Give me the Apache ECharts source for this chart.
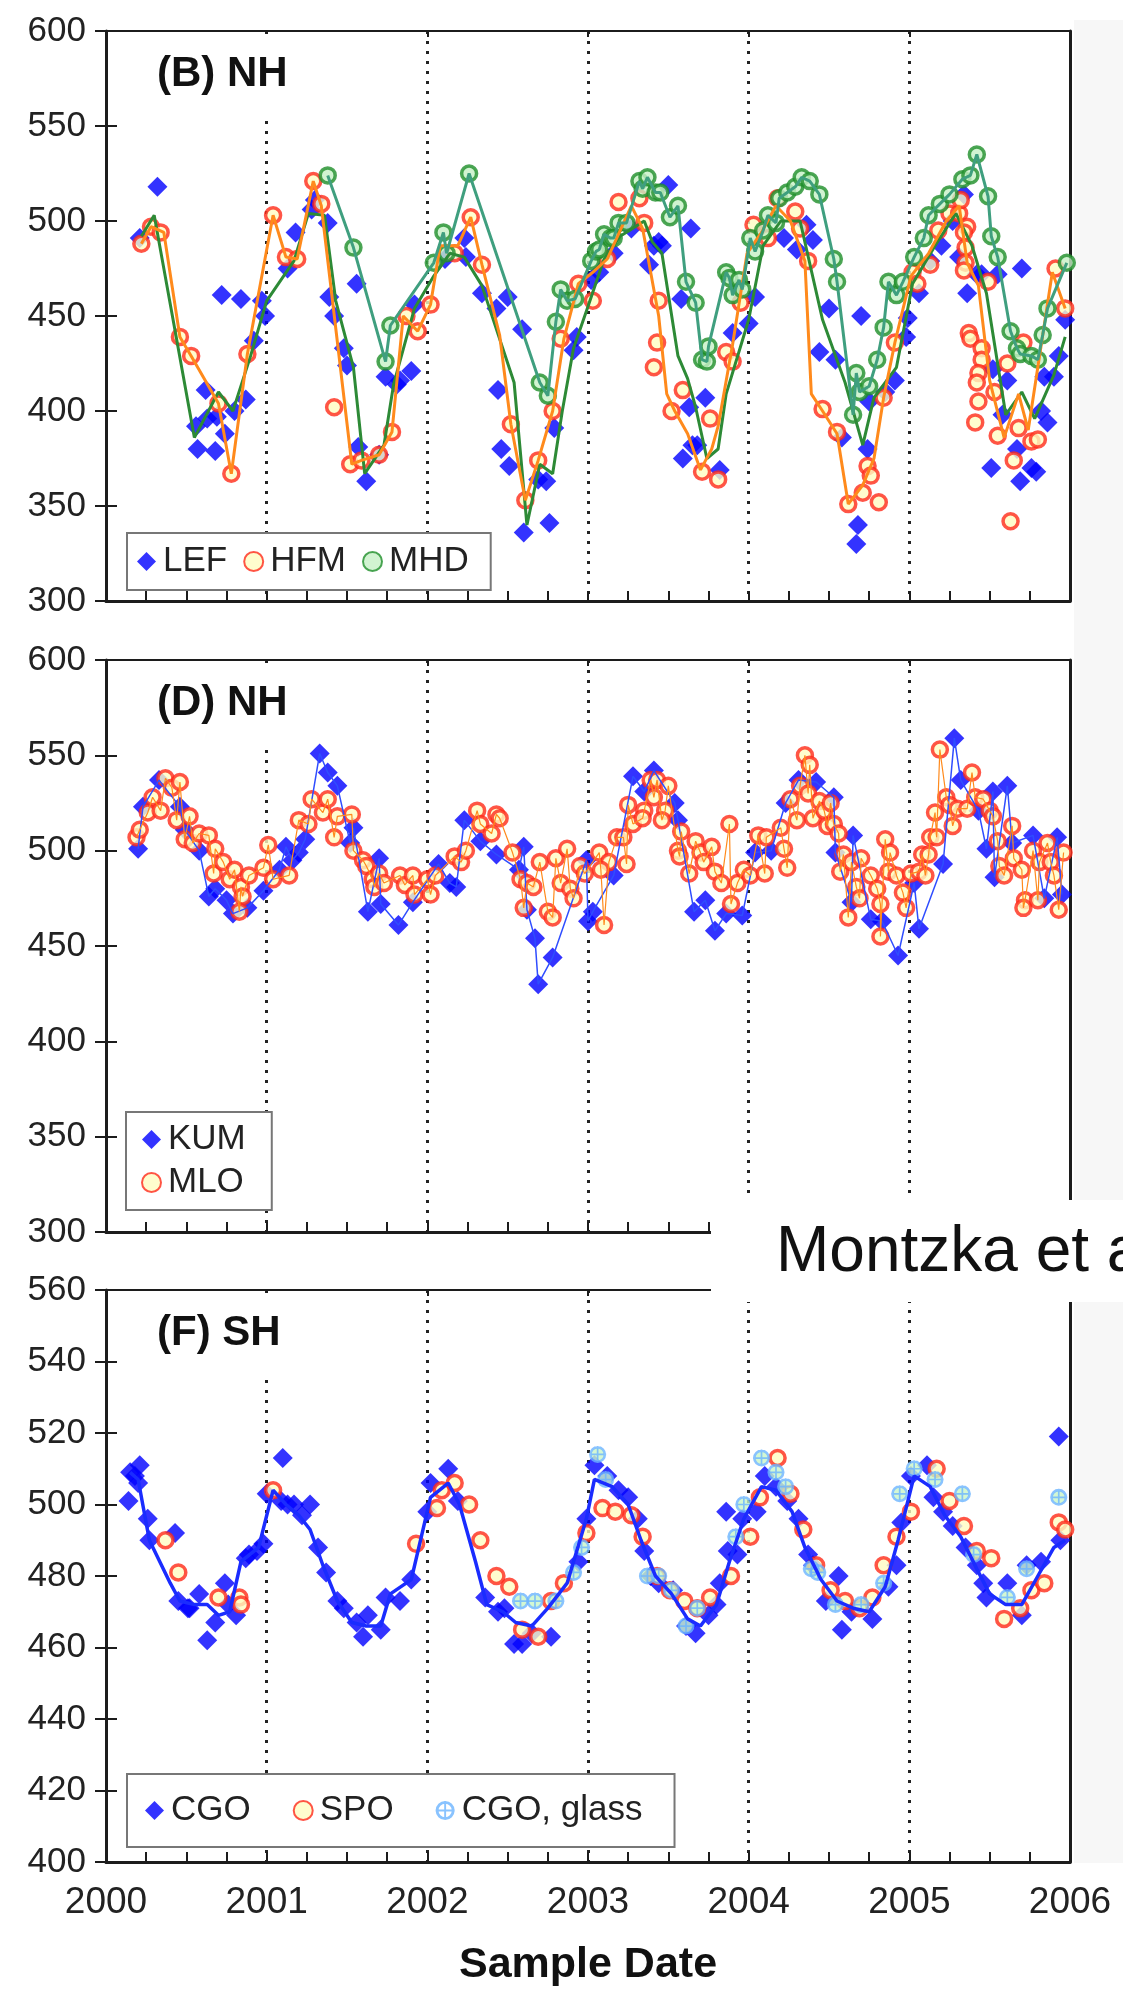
<!DOCTYPE html>
<html>
<head>
<meta charset="utf-8">
<script src="https://cdn.jsdelivr.net/npm/echarts@6/dist/echarts.min.js"></script>
<style>
  html, body { margin: 0; padding: 0; background: #ffffff; }
  #chart { width: 1123px; height: 1995px; }
</style>
</head>
<body>
<div id="chart"></div>
<script>
// ---- Panel B (NH): LEF, HFM, MHD ----
const lefPoints = [[2000.21,491],[2000.32,518],[2000.56,392],[2000.57,380],[2000.62,411],[2000.63,396],[2000.68,379],[2000.69,397],[2000.72,461],[2000.74,388],[2000.80,400],[2000.84,459],[2000.87,406],[2000.92,437],[2000.97,458],[2000.99,450],[2001.13,475],[2001.18,494],[2001.28,506],[2001.30,511],[2001.38,499],[2001.39,460],[2001.42,450],[2001.48,433],[2001.50,424],[2001.56,467],[2001.57,381],[2001.62,363],[2001.70,377],[2001.74,418],[2001.81,414],[2001.83,416],[2001.90,421],[2001.92,456],[2002.11,480],[2002.23,491],[2002.24,481],[2002.34,462],[2002.43,454],[2002.50,460],[2002.44,411],[2002.59,443],[2002.46,380],[2002.51,371],[2002.60,336],[2002.69,364],[2002.74,363],[2002.76,341],[2002.79,391],[2002.91,432],[2002.93,439],[2003.02,469],[2003.07,473],[2003.16,483],[2003.27,496],[2003.38,477],[2003.41,487],[2003.44,489],[2003.46,487],[2003.50,519],[2003.58,459],[2003.64,496],[2003.59,375],[2003.65,382],[2003.63,402],[2003.68,382],[2003.73,407],[2003.82,369],[2003.90,441],[2004.00,446],[2004.04,460],[2004.22,491],[2004.30,485],[2004.36,498],[2004.40,490],[2004.44,431],[2004.50,454],[2004.54,427],[2004.58,386],[2004.68,340],[2004.67,330],[2004.70,450],[2004.74,380],[2004.75,405],[2004.85,410],[2004.91,416],[2004.98,439],[2004.99,449],[2005.06,462],[2005.13,479],[2005.20,487],[2005.27,500],[2005.34,514],[2005.31,481],[2005.36,462],[2005.42,472],[2005.45,472],[2005.55,472],[2005.52,422],[2005.58,398],[2005.61,416],[2005.51,370],[2005.67,380],[2005.69,363],[2005.70,475],[2005.76,370],[2005.79,368],[2005.82,400],[2005.84,418],[2005.86,394],[2005.90,418],[2005.93,429],[2005.97,448]];

const lefMonthly = [[2000.22,492],[2000.30,503],[2000.55,386],[2000.70,410],[2000.79,400],[2000.90,429],[2001.00,458],[2001.17,479],[2001.26,504],[2001.36,503],[2001.43,458],[2001.54,423],[2001.61,367],[2001.73,382],[2001.79,414],[2001.92,454],[2002.04,471],[2002.14,483],[2002.23,481],[2002.34,466],[2002.54,415],[2002.62,340],[2002.70,372],[2002.78,367],[2002.84,400],[2002.91,433],[2003.00,455],[2003.10,480],[2003.20,492],[2003.35,500],[2003.40,489],[2003.46,483],[2003.56,429],[2003.62,417],[2003.67,402],[2003.74,375],[2003.81,380],[2003.86,409],[2004.00,448],[2004.09,487],[2004.20,500],[2004.32,500],[2004.46,448],[2004.60,415],[2004.71,382],[2004.78,407],[2004.92,423],[2005.02,467],[2005.16,487],[2005.29,504],[2005.39,487],[2005.48,462],[2005.60,398],[2005.70,410],[2005.78,396],[2005.90,419],[2005.97,439]];

const hfmPoints = [[2000.22,488],[2000.28,497],[2000.34,494],[2000.46,439],[2000.53,429],[2000.70,404],[2000.78,367],[2000.88,430],[2001.04,503],[2001.12,481],[2001.19,480],[2001.29,521],[2001.34,509],[2001.42,402],[2001.52,372],[2001.59,374],[2001.70,377],[2001.78,389],[2001.87,450],[2001.94,442],[2002.02,456],[2002.17,483],[2002.27,502],[2002.34,477],[2002.52,393],[2002.61,353],[2002.69,374],[2002.78,400],[2002.83,438],[2002.94,467],[2003.03,458],[2003.12,480],[2003.19,510],[2003.32,512],[2003.35,499],[2003.44,458],[2003.43,436],[2003.41,423],[2003.52,400],[2003.59,411],[2003.71,368],[2003.81,364],[2003.76,396],[2003.86,431],[2003.90,426],[2003.95,457],[2004.03,498],[2004.12,491],[2004.18,512],[2004.29,505],[2004.32,496],[2004.37,479],[2004.46,401],[2004.55,389],[2004.62,351],[2004.71,357],[2004.74,371],[2004.76,366],[2004.81,352],[2004.84,407],[2004.91,436],[2005.02,473],[2005.05,467],[2005.13,477],[2005.18,495],[2005.25,504],[2005.31,504],[2005.32,511],[2005.36,497],[2005.34,494],[2005.35,486],[2005.35,478],[2005.34,474],[2005.49,468],[2005.37,441],[2005.38,438],[2005.45,433],[2005.45,427],[2005.43,420],[2005.42,415],[2005.43,405],[2005.41,394],[2005.53,410],[2005.55,387],[2005.61,425],[2005.63,342],[2005.65,374],[2005.68,391],[2005.71,436],[2005.76,384],[2005.80,385],[2005.91,475],[2005.97,454]];

const hfmMonthly = [[2000.22,488],[2000.28,497],[2000.36,494],[2000.46,439],[2000.53,429],[2000.70,404],[2000.78,367],[2000.88,430],[2001.04,503],[2001.12,481],[2001.19,480],[2001.29,521],[2001.34,508],[2001.53,372],[2001.59,374],[2001.70,377],[2001.78,389],[2001.85,450],[2001.94,442],[2002.02,456],[2002.08,487],[2002.19,487],[2002.27,502],[2002.34,477],[2002.45,440],[2002.52,393],[2002.61,353],[2002.69,374],[2002.78,400],[2002.85,438],[2002.94,467],[2003.03,473],[2003.12,480],[2003.27,508],[2003.34,496],[2003.44,450],[2003.49,409],[2003.54,400],[2003.62,388],[2003.70,369],[2003.77,380],[2003.81,392],[2003.90,435],[2003.99,483],[2004.08,494],[2004.17,508],[2004.26,500],[2004.35,479],[2004.39,409],[2004.46,400],[2004.55,388],[2004.62,351],[2004.71,361],[2004.78,375],[2004.84,407],[2004.91,436],[2005.01,471],[2005.12,483],[2005.23,500],[2005.31,508],[2005.36,478],[2005.43,466],[2005.50,416],[2005.59,386],[2005.68,409],[2005.74,390],[2005.89,473],[2005.97,454]];

const mhdPoints = [[2001.38,524],[2001.54,486],[2001.74,426],[2001.77,445],[2002.04,478],[2002.10,494],[2002.12,483],[2002.26,525],[2002.70,415],[2002.75,408],[2002.80,447],[2002.83,464],[2002.87,458],[2002.92,459],[2003.02,479],[2003.05,484],[2003.07,485],[2003.10,493],[2003.14,491],[2003.16,491],[2003.19,499],[2003.24,499],[2003.32,521],[2003.34,517],[2003.37,523],[2003.42,515],[2003.45,515],[2003.51,502],[2003.56,508],[2003.61,468],[2003.67,457],[2003.71,427],[2003.74,426],[2003.75,434],[2003.86,473],[2003.88,470],[2003.90,461],[2003.94,469],[2003.96,464],[2004.01,491],[2004.04,484],[2004.09,495],[2004.12,503],[2004.17,499],[2004.19,512],[2004.24,515],[2004.29,518],[2004.33,523],[2004.38,521],[2004.44,514],[2004.53,480],[2004.55,468],[2004.65,398],[2004.67,420],[2004.69,410],[2004.75,413],[2004.80,427],[2004.84,444],[2004.87,468],[2004.92,461],[2004.96,468],[2005.03,481],[2005.09,491],[2005.12,503],[2005.19,509],[2005.25,514],[2005.33,522],[2005.38,524],[2005.42,535],[2005.49,513],[2005.51,492],[2005.55,481],[2005.63,442],[2005.67,433],[2005.69,430],[2005.76,429],[2005.80,427],[2005.83,440],[2005.86,454],[2005.98,478]];

// ---- Panel D (NH): KUM, MLO ----
const kumPoints = [[2000.20,501],[2000.23,523],[2000.33,537],[2000.46,523],[2000.49,511],[2000.58,500],[2000.64,476],[2000.68,480],[2000.75,474],[2000.79,467],[2000.88,470],[2000.98,479],[2001.08,490],[2001.12,502],[2001.16,495],[2001.20,499],[2001.24,506],[2001.33,551],[2001.38,541],[2001.44,534],[2001.52,504],[2001.54,512],[2001.63,468],[2001.70,496],[2001.71,472],[2001.82,461],[2001.91,473],[2002.07,493],[2002.14,483],[2002.18,481],[2002.23,516],[2002.33,505],[2002.43,498],[2002.57,490],[2002.60,502],[2002.62,469],[2002.67,454],[2002.69,430],[2002.78,444],[2002.99,495],[2003.00,463],[2003.03,468],[2003.16,487],[2003.28,539],[2003.35,531],[2003.41,542],[2003.54,525],[2003.56,516],[2003.66,468],[2003.73,474],[2003.79,458],[2003.86,467],[2003.96,466],[2004.04,499],[2004.14,500],[2004.23,525],[2004.31,537],[2004.42,536],[2004.53,528],[2004.54,499],[2004.64,473],[2004.65,508],[2004.76,464],[2004.83,463],[2004.93,445],[2005.03,483],[2005.06,459],[2005.21,493],[2005.28,559],[2005.32,537],[2005.43,521],[2005.48,501],[2005.52,531],[2005.53,486],[2005.61,534],[2005.64,504],[2005.77,508],[2005.84,475],[2005.92,507],[2005.95,477]];

const mloPoints = [[2000.19,507],[2000.21,511],[2000.26,520],[2000.29,528],[2000.34,521],[2000.37,538],[2000.41,533],[2000.46,536],[2000.44,516],[2000.52,518],[2000.49,506],[2000.54,504],[2000.58,509],[2000.64,508],[2000.68,501],[2000.67,488],[2000.73,494],[2000.77,485],[2000.80,490],[2000.84,481],[2000.85,476],[2000.83,468],[2000.89,487],[2000.98,491],[2001.04,485],[2001.01,503],[2001.14,487],[2001.20,516],[2001.26,514],[2001.28,527],[2001.35,520],[2001.38,527],[2001.42,507],[2001.44,518],[2001.53,519],[2001.54,500],[2001.60,495],[2001.62,492],[2001.66,485],[2001.70,488],[2001.67,481],[2001.73,483],[2001.83,487],[2001.86,482],[2001.91,487],[2001.92,477],[2002.02,477],[2002.00,485],[2002.05,487],[2002.17,497],[2002.21,494],[2002.24,500],[2002.31,521],[2002.33,514],[2002.40,509],[2002.43,519],[2002.45,517],[2002.53,499],[2002.58,485],[2002.60,470],[2002.62,483],[2002.66,481],[2002.70,494],[2002.75,468],[2002.78,465],[2002.80,496],[2002.83,483],[2002.87,501],[2002.89,480],[2002.91,475],[2002.95,492],[2002.98,488],[2003.10,461],[2003.07,499],[2003.13,494],[2003.08,490],[2003.24,493],[2003.18,507],[2003.22,507],[2003.25,524],[2003.28,514],[2003.35,521],[2003.34,517],[2003.39,537],[2003.43,537],[2003.41,528],[2003.50,534],[2003.48,521],[2003.46,516],[2003.58,510],[2003.56,500],[2003.57,497],[2003.67,505],[2003.63,488],[2003.70,499],[2003.72,494],[2003.77,502],[2003.79,489],[2003.83,483],[2003.89,472],[2003.88,514],[2003.93,483],[2003.97,490],[2004.01,487],[2004.06,508],[2004.10,488],[2004.11,507],[2004.20,512],[2004.22,501],[2004.24,491],[2004.26,527],[2004.30,516],[2004.32,534],[2004.35,550],[2004.38,545],[2004.37,530],[2004.40,517],[2004.44,526],[2004.47,521],[2004.51,525],[2004.49,513],[2004.53,514],[2004.56,509],[2004.59,498],[2004.57,489],[2004.64,494],[2004.70,496],[2004.67,481],[2004.69,475],[2004.76,487],[2004.80,480],[2004.82,472],[2004.85,506],[2004.88,499],[2004.87,489],[2004.92,487],[2004.96,478],[2004.98,470],[2004.62,465],[2004.82,455],[2005.01,488],[2005.06,489],[2005.10,487],[2005.08,498],[2005.12,498],[2005.13,507],[2005.17,507],[2005.16,520],[2005.19,553],[2005.23,528],[2005.25,524],[2005.27,513],[2005.30,522],[2005.36,522],[2005.39,541],[2005.41,528],[2005.46,527],[2005.50,521],[2005.52,518],[2005.55,505],[2005.64,513],[2005.56,492],[2005.59,487],[2005.65,496],[2005.70,490],[2005.77,500],[2005.81,494],[2005.86,504],[2005.88,494],[2005.90,487],[2005.96,499],[2005.72,474],[2005.71,470],[2005.80,474],[2005.93,469]];

// ---- Panel F (SH): CGO, SPO, CGO glass ----
const cgoPoints = [[2000.14,501],[2000.15,509],[2000.18,508],[2000.20,506],[2000.21,511],[2000.26,496],[2000.27,490],[2000.43,492],[2000.45,473],[2000.51,471],[2000.52,471],[2000.58,475],[2000.63,462],[2000.68,467],[2000.74,478],[2000.76,472],[2000.81,469],[2000.87,485],[2000.89,486],[2000.94,487],[2000.98,489],[2001.00,503],[2001.10,513],[2001.09,501],[2001.13,500],[2001.17,500],[2001.22,497],[2001.27,500],[2001.32,488],[2001.37,481],[2001.44,473],[2001.48,471],[2001.56,467],[2001.60,463],[2001.63,469],[2001.71,465],[2001.74,474],[2001.83,473],[2001.90,479],[2002.00,498],[2002.02,506],[2002.13,510],[2002.19,501],[2002.36,474],[2002.44,470],[2002.48,471],[2002.54,461],[2002.59,461],[2002.65,464],[2002.77,463],[2002.94,484],[2002.99,496],[2003.04,511],[2003.12,508],[2003.19,504],[2003.25,502],[2003.31,496],[2003.35,487],[2003.39,480],[2003.44,478],[2003.53,476],[2003.61,466],[2003.67,464],[2003.75,469],[2003.80,472],[2003.82,478],[2003.87,487],[2003.93,486],[2003.86,498],[2003.96,496],[2004.05,498],[2004.10,508],[2004.17,505],[2004.24,501],[2004.31,496],[2004.37,486],[2004.40,483],[2004.48,473],[2004.56,480],[2004.58,465],[2004.64,470],[2004.77,468],[2004.87,477],[2004.92,483],[2004.95,495],[2005.01,508],[2005.11,511],[2005.15,502],[2005.21,498],[2005.27,494],[2005.35,488],[2005.42,483],[2005.46,478],[2005.48,474],[2005.61,478],[2005.70,469],[2005.73,483],[2005.82,484],[2005.93,519],[2005.94,490]];

const cgoMonthly = [[2000.15,509],[2000.20,507],[2000.27,490],[2000.40,478],[2000.46,473],[2000.55,472],[2000.63,472],[2000.70,469],[2000.77,470],[2000.84,484],[2000.95,488],[2001.04,504],[2001.12,500],[2001.20,497],[2001.27,493],[2001.35,483],[2001.44,473],[2001.53,467],[2001.62,466],[2001.71,466],[2001.77,475],[2001.90,479],[2002.02,502],[2002.13,506],[2002.20,500],[2002.30,484],[2002.37,472],[2002.47,470],[2002.55,467],[2002.65,466],[2002.75,471],[2002.87,478],[2002.99,496],[2003.04,507],[2003.15,505],[2003.25,500],[2003.33,490],[2003.42,480],[2003.52,475],[2003.62,468],[2003.70,466],[2003.80,472],[2003.88,484],[2003.97,496],[2004.08,505],[2004.17,504],[2004.27,498],[2004.35,488],[2004.45,479],[2004.55,473],[2004.65,471],[2004.75,470],[2004.85,477],[2004.93,490],[2005.03,508],[2005.13,505],[2005.22,497],[2005.32,491],[2005.42,482],[2005.50,475],[2005.60,472],[2005.70,472],[2005.80,480],[2005.90,488],[2005.97,490]];

const spoPoints = [[2000.37,490],[2000.45,481],[2000.70,474],[2000.83,474],[2000.84,472],[2001.04,504],[2001.93,489],[2002.06,499],[2002.09,504],[2002.17,506],[2002.26,500],[2002.33,490],[2002.43,480],[2002.51,477],[2002.59,465],[2002.69,463],[2002.77,473],[2002.85,478],[2002.99,492],[2003.09,499],[2003.17,498],[2003.27,497],[2003.34,491],[2003.43,480],[2003.51,476],[2003.60,473],[2003.68,471],[2003.76,474],[2003.89,480],[2004.01,491],[2004.07,502],[2004.18,513],[2004.26,503],[2004.34,493],[2004.42,483],[2004.51,476],[2004.60,473],[2004.69,471],[2004.77,474],[2004.84,483],[2004.92,491],[2005.01,498],[2005.17,510],[2005.25,501],[2005.34,494],[2005.42,487],[2005.51,485],[2005.59,468],[2005.69,471],[2005.76,476],[2005.84,478],[2005.93,495],[2005.97,493]];

const glassPoints = [[2002.58,473],[2002.67,473],[2002.80,473],[2002.91,481],[2002.96,488],[2003.06,514],[2003.11,507],[2003.37,480],[2003.44,480],[2003.52,476],[2003.61,466],[2003.68,471],[2003.92,491],[2003.97,500],[2004.08,513],[2004.17,509],[2004.23,505],[2004.39,482],[2004.43,481],[2004.54,472],[2004.70,472],[2004.84,478],[2004.94,503],[2005.03,510],[2005.16,507],[2005.33,503],[2005.40,486],[2005.61,474],[2005.73,482],[2005.93,502]];

// Axis ranges and labels
const yearRange = [2000, 2006];
const panelRanges = [
  { min: 300, max: 600, step: 50 },
  { min: 300, max: 600, step: 50 },
  { min: 400, max: 560, step: 20 }
];
const panelTitles = ['(B) NH', '(D) NH', '(F) SH'];
const xAxisTitle = 'Sample Date';
const creditText = 'Montzka et al.';

const FONT = "'Liberation Sans', Arial, Helvetica, sans-serif";
const INK = '#1c1c1c';
const BLUE = '#0000ff';
const RED = '#ff2a1a';
const CREAM = '#fffcc2';
const GREEN = '#1f8f2a';
const MINT = '#c6f0c6';

const grids = [
  { left: 106, top: 31, width: 964, height: 570 },
  { left: 106, top: 660, width: 964, height: 572 },
  { left: 106, top: 1290, width: 964, height: 572 }
];

const xAxes = [];
const yAxes = [];
grids.forEach((g, i) => {
  const last = i === grids.length - 1;
  xAxes.push({
    type: 'value', gridIndex: i, min: yearRange[0], max: yearRange[1], interval: 1,
    position: 'bottom',
    axisLine: { show: true, onZero: false, lineStyle: { color: INK, width: 3 } },
    axisTick: { show: true, inside: true, length: 10, lineStyle: { color: INK, width: 2 } },
    minorTick: { show: true, splitNumber: 4, length: 10, lineStyle: { color: INK, width: 2 } },
    splitLine: { show: true, lineStyle: { color: '#222', width: 3, type: [3, 7] } },
    axisLabel: { show: last, fontSize: 37, color: '#222', margin: 22, fontFamily: FONT,
                 formatter: v => String(v) },
    name: last ? xAxisTitle : '',
    nameLocation: 'middle', nameGap: 82,
    nameTextStyle: { fontSize: 43, fontWeight: 'bold', color: '#111', fontFamily: FONT }
  });
  xAxes.push({
    type: 'value', gridIndex: i, min: yearRange[0], max: yearRange[1], interval: 1,
    position: 'top',
    axisLine: { show: true, onZero: false, lineStyle: { color: INK, width: 2 } },
    axisTick: { show: true, inside: true, length: 6, lineStyle: { color: INK, width: 2 } },
    axisLabel: { show: false }, splitLine: { show: false }
  });
  const r = panelRanges[i];
  yAxes.push({
    type: 'value', gridIndex: i, min: r.min, max: r.max, interval: r.step, position: 'left',
    axisLine: { show: true, onZero: false, lineStyle: { color: INK, width: 3 } },
    axisTick: { show: true, length: 11, lineStyle: { color: INK, width: 2 } },
    axisLabel: { fontSize: 35, color: '#222', margin: 20, fontFamily: FONT },
    splitLine: { show: false }
  });
  yAxes.push({
    type: 'value', gridIndex: i, min: r.min, max: r.max, interval: r.step, position: 'left',
    axisLine: { show: false },
    axisTick: { show: true, inside: true, length: 11, lineStyle: { color: INK, width: 2 } },
    axisLabel: { show: false }, splitLine: { show: false }
  });
  yAxes.push({
    type: 'value', gridIndex: i, min: r.min, max: r.max, interval: r.step, position: 'right',
    axisLine: { show: true, onZero: false, lineStyle: { color: INK, width: 3 } },
    axisTick: { show: false }, axisLabel: { show: false }, splitLine: { show: false }
  });
});

const diamondStyle = { symbol: 'diamond', symbolSize: 20, itemStyle: { color: BLUE } };
const ringStyle = { symbol: 'circle', symbolSize: 15,
  itemStyle: { color: CREAM, borderColor: RED, borderWidth: 3.5 } };
const greenRingStyle = { symbol: 'circle', symbolSize: 15,
  itemStyle: { color: MINT, borderColor: GREEN, borderWidth: 3.5 } };
const crossRing = 'path://M10 0A10 10 0 1 1 10 20A10 10 0 1 1 10 0Z M10 3A7 7 0 1 0 10 17A7 7 0 1 0 10 3Z M9 0L11 0L11 20L9 20Z M0 9L20 9L20 11L0 11Z';

function scatter(name, panel, data, style) {
  return Object.assign({ type: 'scatter', name, xAxisIndex: panel * 2, yAxisIndex: panel * 3,
    data, emphasis: { disabled: true }, silent: true }, style);
}
function line(name, panel, data, color, width) {
  return { type: 'line', name, xAxisIndex: panel * 2, yAxisIndex: panel * 3, data,
    showSymbol: false, symbol: 'none', silent: true, emphasis: { disabled: true },
    lineStyle: { color, width } };
}
const byYear = arr => arr.slice().sort((a, b) => a[0] - b[0]);

const series = [
  // panel B
  scatter('LEF', 0, lefPoints, diamondStyle),
  line('LEF monthly', 0, lefMonthly, '#2d8a36', 3),
  line('HFM monthly', 0, hfmMonthly, '#ff8a1c', 3),
  line('MHD monthly', 0, mhdPoints, '#3f9f7f', 3),
  scatter('HFM', 0, hfmPoints, ringStyle),
  scatter('MHD', 0, mhdPoints, greenRingStyle),
  // panel D
  scatter('KUM', 1, kumPoints, diamondStyle),
  line('KUM line', 1, byYear(kumPoints), '#2f4dff', 1.5),
  line('MLO line', 1, byYear(mloPoints), '#ff8a1c', 1.2),
  scatter('MLO', 1, mloPoints, ringStyle),
  // panel F
  scatter('CGO', 2, cgoPoints, diamondStyle),
  line('CGO monthly', 2, cgoMonthly, '#1a2cff', 3.5),
  scatter('SPO', 2, spoPoints, ringStyle),
  scatter('CGO, glass fill', 2, glassPoints, { symbol: 'circle', symbolSize: 13,
    itemStyle: { color: '#c8f5c8' } }),
  scatter('CGO, glass', 2, glassPoints, { symbol: crossRing, symbolSize: 17,
    itemStyle: { color: '#6cb4ff' } })
];

const legendBase = {
  borderColor: '#777', borderWidth: 2, backgroundColor: '#ffffff',
  itemWidth: 19, itemHeight: 19, selectedMode: false,
  textStyle: { fontSize: 35, color: '#222', fontFamily: FONT, padding: [0, 0, 0, 2] }
};
const legends = [
  Object.assign({}, legendBase, { data: ['LEF', 'HFM', 'MHD'], orient: 'horizontal',
    left: 127, top: 533, itemGap: 16, padding: [11, 22, 11, 10] }),
  Object.assign({}, legendBase, { data: ['KUM', 'MLO'], orient: 'vertical',
    left: 126, top: 1112, itemGap: 8, padding: [10, 26, 10, 15] }),
  Object.assign({}, legendBase, { data: ['CGO', 'SPO', 'CGO, glass'], orient: 'horizontal',
    left: 127, top: 1774, itemGap: 42, padding: [19, 32, 19, 18] })
];

const titleTops = [34, 663, 1293];
const titles = panelTitles.map((t, i) => ({
  text: t, left: 147, top: titleTops[i], padding: [19, 8, 19, 10],
  backgroundColor: '#ffffff',
  textStyle: { fontSize: 42, fontWeight: 'bold', color: '#111', fontFamily: FONT }
}));

const option = {
  animation: false,
  backgroundColor: '#ffffff',
  textStyle: { fontFamily: FONT },
  title: titles,
  legend: legends,
  grid: grids.map(g => Object.assign({ outerBoundsMode: 'none', containLabel: false }, g)),
  xAxis: xAxes,
  yAxis: yAxes,
  series: series,
  graphic: [
    { type: 'rect', z: -10, shape: { x: 1074, y: 20, width: 49, height: 1843 },
      style: { fill: '#f7f7f7' } },
    { type: 'rect', z: 100, shape: { x: 711, y: 1200, width: 412, height: 102 },
      style: { fill: '#ffffff' } },
    { type: 'text', z: 101, x: 776, y: 1253,
      style: { text: creditText, font: "64px 'Liberation Sans', Arial, sans-serif",
               fill: '#111', verticalAlign: 'middle', textVerticalAlign: 'middle' } }
  ]
};

const chart = echarts.init(document.getElementById('chart'), null, { renderer: 'canvas' });
chart.setOption(option);
</script>
</body>
</html>
